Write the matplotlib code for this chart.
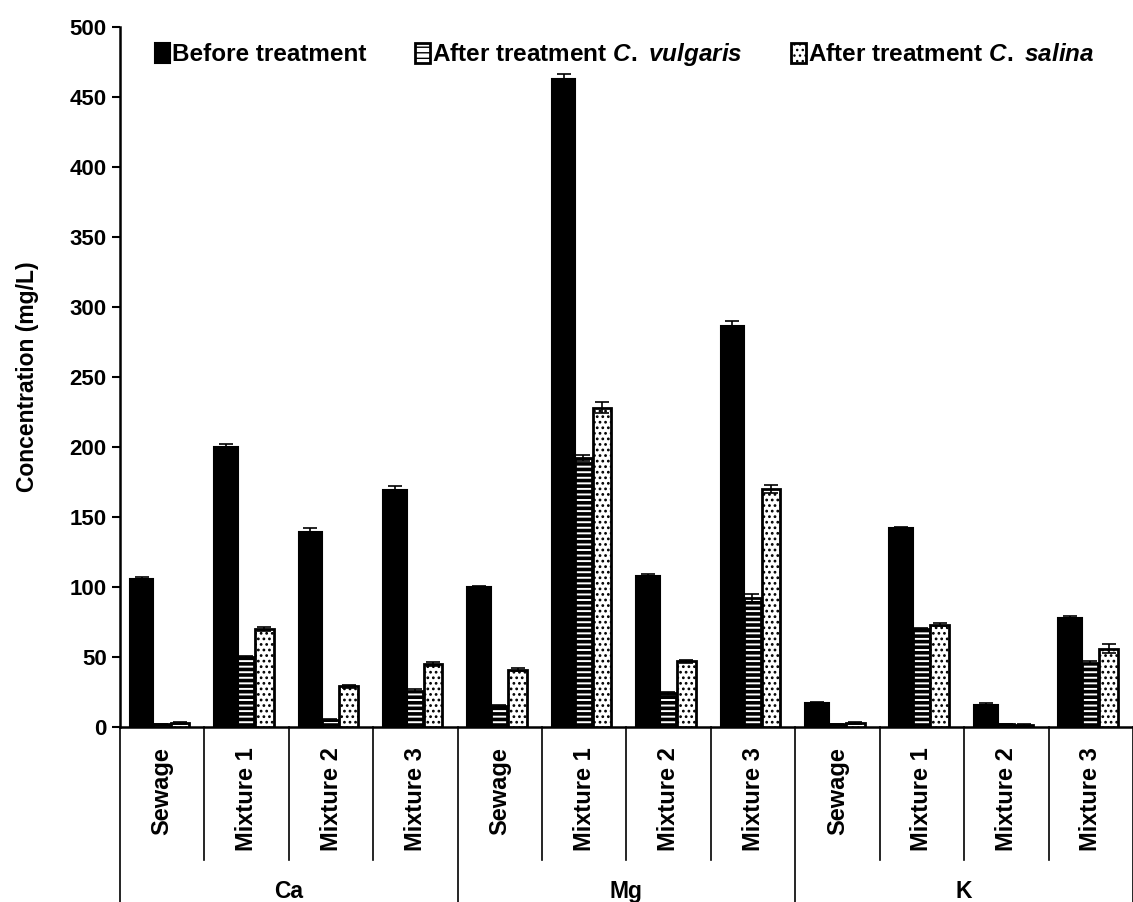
import numpy as np
import matplotlib
matplotlib.use("Agg")
import matplotlib.pyplot as plt
from matplotlib.transforms import blended_transform_factory
from matplotlib.lines import Line2D

plt.rcParams['font.family'] = ['Liberation Sans', 'DejaVu Sans']
plt.rcParams['font.weight'] = 'bold'
plt.rcParams['mathtext.fontset'] = 'custom'
plt.rcParams['mathtext.it'] = 'Liberation Sans:italic:bold'
plt.rcParams['mathtext.rm'] = 'Liberation Sans:bold'

elements = ["Ca", "Mg", "K"]
samples = ["Sewage", "Mixture 1", "Mixture 2", "Mixture 3"]

before = [106, 200, 139, 169, 100, 463, 108, 286, 17, 142, 16, 78]
before_err = [1, 2, 3, 3, 1, 3, 1, 4, 1, 1, 1, 1]
vulgaris = [2, 50, 5, 26, 15, 192, 24, 92, 2, 70, 2, 46]
vulgaris_err = [0.5, 1, 0.5, 1, 1, 2, 1, 3, 0.5, 1, 0.5, 1]
salina = [3, 70, 29, 45, 41, 228, 47, 170, 3, 73, 1.5, 56]
salina_err = [0.5, 1.5, 1, 1.5, 1, 4, 1, 3, 0.5, 1, 0.5, 3]

labels = ["Before treatment",
          r"After treatment $C.\ vulgaris$",
          r"After treatment $C.\ salina$"]

fig = plt.figure(figsize=(11.33, 9.02), dpi=100)
ax = fig.add_axes([0.1059, 0.194, 0.8941, 0.7764])

x = np.arange(len(before))
ekw = dict(ecolor='black', elinewidth=1.2, capsize=5, capthick=1.2)
ax.bar(x - 0.245, before, 0.28, yerr=before_err, color='black', edgecolor='black',
       linewidth=1.5, label=labels[0], error_kw=ekw, zorder=4)
with plt.rc_context({'hatch.linewidth': 2.6}):
    b2 = ax.bar(x - 0.01, vulgaris, 0.2, yerr=vulgaris_err, color='white',
                edgecolor='black', linewidth=2, hatch='---', label=labels[1],
                error_kw=ekw, zorder=3)
with plt.rc_context({'hatch.linewidth': 1.2}):
    b3 = ax.bar(x + 0.21, salina, 0.22, yerr=salina_err, color='white',
                edgecolor='black', linewidth=2, hatch='...', label=labels[2],
                error_kw=ekw, zorder=3)
for p in b2:
    if hasattr(p, 'set_hatch_linewidth'):
        p.set_hatch_linewidth(2.6)
for p in b3:
    if hasattr(p, 'set_hatch_linewidth'):
        p.set_hatch_linewidth(1.2)

ax.set_xlim(-0.5, len(before) - 0.5)
ax.set_ylim(0, 500)
ax.set_yticks(np.arange(0, 501, 50))
ax.tick_params(axis='y', labelsize=16, length=6, width=1.5, direction='out')
ax.set_xticks([])
ax.spines['top'].set_visible(False)
ax.spines['right'].set_visible(False)
ax.spines['left'].set_linewidth(1.8)
ax.spines['bottom'].set_linewidth(1.8)
ax.set_ylabel("Concentration (mg/L)", fontsize=16.5, fontweight='bold', labelpad=22)

# two-level category axis
tr = blended_transform_factory(ax.transData, ax.transAxes)
px = 1.0 / (727 - 26.7)  # axes fraction per pixel
for i in range(len(before) + 1):
    xb = i - 0.5
    low = -(902 - 727) * px if i % 4 == 0 else -(860 - 727) * px
    ax.add_line(Line2D([xb, xb], [0, low], transform=tr, color='black',
                       linewidth=1.2, clip_on=False))
for i in range(len(before)):
    ax.text(i, -20 * px, samples[i % 4], transform=tr, rotation=90,
            ha='center', va='top', fontsize=17, fontweight='bold')
for g, name in enumerate(elements):
    ax.text(g * 4 + 1.5, -(891 - 727) * px, name, transform=tr,
            ha='center', va='center', fontsize=16.5, fontweight='bold')

leg = ax.legend(loc='center', bbox_to_anchor=(0.4985, 0.96), ncol=3, frameon=False,
                fontsize=17.5, handlelength=0.6, handleheight=0.9, handletextpad=0.1,
                columnspacing=2.0, borderaxespad=0)

fig.savefig("out.png", dpi=100)
